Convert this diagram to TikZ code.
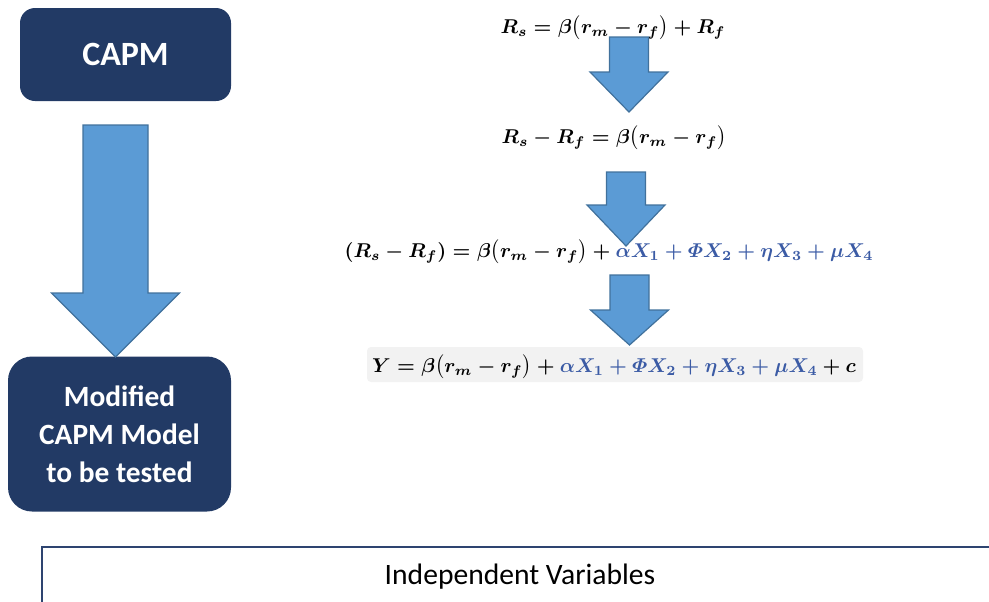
\documentclass[tikz,border=0pt]{standalone}
\usepackage{amsmath}
\usepackage{fontspec}
\newfontfamily\calib{Carlito}
\usetikzlibrary{positioning}
\definecolor{navyBox}{HTML}{223A65}
\definecolor{arrowFill}{HTML}{5B9BD5}
\definecolor{arrowEdge}{HTML}{41719C}
\definecolor{varBlue}{HTML}{3B5BA5}
\definecolor{eqBg}{HTML}{F2F2F2}
\definecolor{frameNavy}{HTML}{2E4470}
% block arrow: centre x, top, neck, tip, half shaft, half head
\newcommand{\blockarrow}[6]{%
  \draw[fat] (#1-#5,#2) -- (#1+#5,#2) -- (#1+#5,#3) -- (#1+#6,#3)
    -- (#1,#4) -- (#1-#6,#3) -- (#1-#5,#3) -- cycle;}
\newcommand{\vars}{{\color{varBlue}\alpha X_1 + \varPhi X_2 + \eta X_3 + \mu X_4}}

\begin{document}
\begin{tikzpicture}[x=0.5pt,y=-0.5pt,
  stepbox/.style={fill=navyBox,text=white,align=center,font=\calib\bfseries},
  fat/.style={fill=arrowFill,draw=arrowEdge,line width=0.6pt,line join=miter},
  eq/.style={anchor=base,inner sep=0pt,font=\fontsize{10.2}{12}\selectfont\boldmath},
  frame/.style={draw=frameNavy,line width=0.8pt}]
  \useasboundingbox (0,0) rectangle (989,601);

  \node[stepbox,rounded corners=7.5pt,minimum width=105.5pt,minimum height=46.5pt,
    font=\calib\bfseries\fontsize{17}{20}\selectfont] (capm) at (125.5,54.5) {CAPM};
  \node[stepbox,rounded corners=12pt,minimum width=111.5pt,minimum height=77.5pt,
    font=\calib\bfseries\fontsize{14.7}{19}\selectfont] (modified) at (119.5,434)
    {Modified\\CAPM Model\\to be tested};
  \blockarrow{115.5}{125}{293}{357}{32.5}{64}

  % equations
  \node[eq] (eqa) at (613,33) {$R_s = \beta\bigl(r_m - r_f\bigr) + R_f$};
  \node[eq] (eqb) at (614,143) {$R_s - R_f = \beta\bigl(r_m - r_f\bigr)$};
  \node[eq] (eqc) at (609,257) {$(R_s - R_f) = \beta\bigl(r_m - r_f\bigr) + \vars$};
  \fill[eqBg,rounded corners=2pt] (367,347) rectangle (863,382);
  \node[eq] (eqd) at (614,372) {$Y = \beta\bigl(r_m - r_f\bigr) + \vars + c$};
  \blockarrow{629}{37}{72}{112}{19.5}{39}
  \blockarrow{626}{172}{205}{246}{19.5}{39}
  \blockarrow{629.5}{275}{310}{345}{19.5}{39}

  % independent variables frame, cut by the page edge
  \begin{scope}
    \clip (0,0) rectangle (989,601);
    \draw[frame] (42,547) rectangle (1010,640);
  \end{scope}
  \node[anchor=base,font=\calib\fontsize{14.8}{17}\selectfont] (indep) at (520,584)
    {Independent Variables};
\end{tikzpicture}
\end{document}
